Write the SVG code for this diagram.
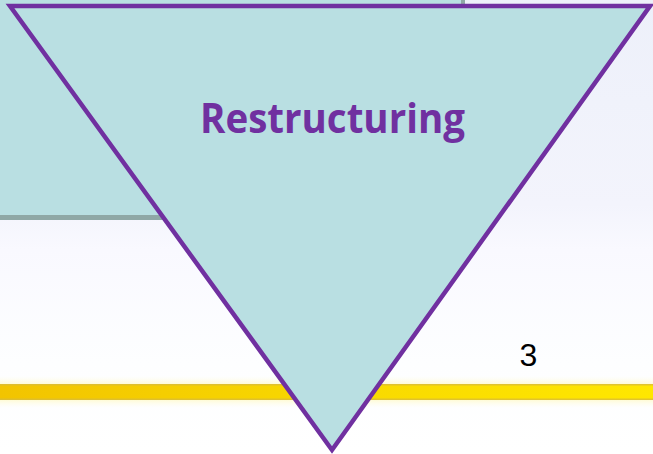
<svg xmlns="http://www.w3.org/2000/svg" width="653" height="454" viewBox="0 0 653 454">
  <defs>
    <linearGradient id="bg" x1="0" y1="0" x2="0" y2="1">
      <stop offset="0" stop-color="#EDF0FA"/>
      <stop offset="0.45" stop-color="#F3F4FC"/>
      <stop offset="0.55" stop-color="#F9F9FF"/>
      <stop offset="0.8" stop-color="#FDFEFF"/>
      <stop offset="1" stop-color="#FFFFFF"/>
    </linearGradient>
    <linearGradient id="stripe" x1="0" y1="0" x2="1" y2="0">
      <stop offset="0" stop-color="#F2C400"/>
      <stop offset="0.5" stop-color="#F8D800"/>
      <stop offset="1" stop-color="#FFE700"/>
    </linearGradient>
    <linearGradient id="glow" x1="0" y1="0" x2="0" y2="1">
      <stop offset="0" stop-color="#FFFDE8" stop-opacity="0"/>
      <stop offset="0.35" stop-color="#FFF8B8"/>
      <stop offset="0.65" stop-color="#FFF8B8"/>
      <stop offset="1" stop-color="#FFFDE8" stop-opacity="0"/>
    </linearGradient>
    <style>
      .tri { fill: #B9DFE2; stroke: #7030A0; stroke-width: 4.5; stroke-linejoin: miter; }
      .title { font-family: "Open Sans", "Liberation Sans", sans-serif; font-weight: 700; font-size: 42px; fill: #7030A0; }
      .num { font-family: "Liberation Sans", Arial, sans-serif; font-size: 32px; fill: #000000; }
    </style>
  </defs>

  <g id="background">
    <rect x="0" y="0" width="653" height="454" fill="url(#bg)"/>
    <rect x="0" y="0" width="465" height="220" fill="#8FA8A6"/>
    <rect x="0" y="0" width="461" height="215" fill="#B9DFE2"/>
    <rect x="0" y="376" width="653" height="32" fill="url(#glow)"/>
    <rect x="0" y="384" width="653" height="16" fill="url(#stripe)"/>
    <rect x="0" y="384" width="653" height="1.5" fill="#D9BC3A" opacity="0.8"/>
    <rect x="0" y="398.5" width="653" height="1.5" fill="#D9BC3A" opacity="0.8"/>
  </g>

  <g id="connectors"></g>

  <g id="restructuring">
    <polygon class="tri" points="10,6 650,6 332,450"/>
    <text class="title" x="332.5" y="133" text-anchor="middle" textLength="265" lengthAdjust="spacingAndGlyphs">Restructuring</text>
  </g>

  <g id="page-number">
    <text class="num" x="528.5" y="366" text-anchor="middle">3</text>
  </g>
</svg>
